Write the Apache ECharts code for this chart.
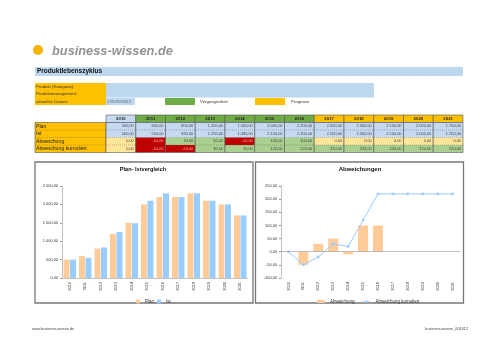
<!DOCTYPE html>
<html>
<head>
<meta charset="utf-8">
<script src="https://cdn.jsdelivr.net/npm/echarts@6/dist/echarts.min.js"></script>
<style>
html,body{margin:0;padding:0;background:#fff;}
#main{width:500px;height:354px;}
</style>
</head>
<body>
<div id="main"></div>
<script>
// Daten aus der Tabelle
var years = ['2010','2011','2012','2013','2014','2015','2016','2017','2018','2019','2020','2021'];
var plan = [500, 600, 800, 1200, 1500, 2000, 2200, 2200, 2300, 2100, 2000, 1700];
var ist = [500, 550, 830, 1250, 1490, 2100, 2300, 2200, 2300, 2100, 2000, 1700];
var abweichung = [0, -50, 30, 50, -10, 100, 100, 0, 0, 0, 0, 0];
var abwKumuliert = [0, -50, -20, 30, 20, 120, 220, 220, 220, 220, 220, 220];
var pastYears = 7; // 2010..2016 Vergangenheit, Rest Prognose
var rowLabels = ['Plan', 'Ist', 'Abweichung', 'Abweichung kumuliert'];

var FONT = 'Liberation Sans';

function de(v) {
    var neg = v < 0;
    var s = Math.abs(v).toFixed(2).split('.');
    var intPart = s[0].replace(/\B(?=(\d{3})+(?!\d))/g, '.');
    return (neg ? '-' : '') + intPart + ',' + s[1];
}

var chart = echarts.init(document.getElementById('main'), null, {renderer: 'canvas'});

var g = [];
function rect(x, y, w, h, fill, stroke, lw) {
    g.push({type: 'rect', shape: {x: x, y: y, width: w, height: h}, style: {fill: fill, stroke: stroke || null, lineWidth: lw || 0}, silent: true});
}
function text(x, y, t, size, opt) {
    opt = opt || {};
    g.push({type: 'text', x: x, y: y, silent: true, style: {
        text: t, fontSize: size, fontFamily: opt.family || FONT, fontWeight: opt.weight || 'normal',
        fontStyle: opt.style || 'normal', fill: opt.color || '#333',
        align: opt.align || 'left', verticalAlign: 'middle'
    }});
}

// Logo
g.push({type: 'circle', shape: {cx: 38, cy: 50, r: 5}, style: {fill: '#F5B400'}, silent: true});
text(52, 51, 'business-wissen.de', 12.8, {weight: 'bold', style: 'italic', color: '#939393'});

// Titelzeile
rect(35, 67, 428, 9, '#BDD7EE');
text(37, 71.5, 'Produktlebenszyklus', 6.5, {weight: 'bold', color: '#111'});

// Kopfbereich
rect(35, 83, 71, 22, '#FFC000');
rect(106, 83, 268, 14.5, '#BDD7EE');
rect(106, 98, 29, 7, '#BDD7EE');
text(36, 86.5, 'Produkt (Kategorie):', 4.3);
text(36, 94, 'Produktmanagement:', 4.3);
text(36, 101.5, 'aktuelles Datum:', 4.3);
text(107, 101.5, '##########', 4.3);
rect(165, 98, 30, 7, '#6FAC46');
text(200, 101.5, 'Vergangenheit', 4.3);
rect(255, 98, 30, 7, '#FFC000');
text(291, 101.5, 'Prognose', 4.3);

// Tabelle
var x0 = 106, colW = 29.75, hy = 115, rowH = 7.5;
var ty = hy + 7.5;
rect(35, ty, 71, rowH * 4, '#FFC000', '#555', 0.6);
rowLabels.forEach(function (l, i) {
    text(36, ty + rowH * i + rowH / 2, l, 5.2, {color: '#222'});
    if (i > 0) g.push({type: 'line', shape: {x1: 35, y1: ty + rowH * i, x2: 106, y2: ty + rowH * i}, style: {stroke: '#555', lineWidth: 0.4, lineDash: [1, 1]}, silent: true});
});
var rows = [plan, ist, abweichung, abwKumuliert];
years.forEach(function (y, c) {
    var x = x0 + colW * c;
    var hc = c === 0 ? '#C5D9F1' : (c < pastYears ? '#6FAC46' : '#FFC000');
    rect(x, hy, colW, 7.5, hc, '#555', 0.6);
    text(x + colW / 2, hy + 3.9, y, 4.3, {align: 'center', weight: 'bold', color: '#222'});
    rows.forEach(function (arr, r) {
        var fill = '#C5D9F1', col = '#444';
        if (r >= 2) {
            if (arr[c] < 0) { fill = '#C00000'; col = '#f4b0b0'; }
            else if (arr[c] > 0) { fill = '#A9D08E'; }
            else { fill = '#FFE699'; }
        }
        rect(x, ty + rowH * r, colW, rowH, fill);
        text(x + colW - 2, ty + rowH * r + rowH / 2, de(arr[c]), 3.9, {align: 'right', color: col});
    });
    rect(x, ty, colW, rowH * 4, null, '#555', 0.6);
});
[1, 2, 3].forEach(function (i) {
    g.push({type: 'line', shape: {x1: x0, y1: ty + rowH * i, x2: x0 + colW * 12, y2: ty + rowH * i}, style: {stroke: '#555', lineWidth: 0.4, lineDash: [1, 1]}, silent: true});
});

// Diagrammrahmen
rect(35, 162, 218, 141, null, '#777', 1.3);
rect(255.5, 162, 208, 141, null, '#777', 1.3);
text(143, 169, 'Plan- Istvergleich', 5.6, {align: 'center', weight: 'bold', color: '#111'});
text(360, 169, 'Abweichungen', 6, {align: 'center', weight: 'bold', color: '#111'});

// Fusszeile
text(32, 329, 'www.business-wissen.de', 3.8, {color: '#444'});
text(468, 329, 'business-wissen_001012', 3.8, {color: '#444', align: 'right'});

var axisLabelY = {fontSize: 3.9, color: '#333', fontFamily: FONT, formatter: de, margin: 4};
var axisLabelX = {fontSize: 3.9, color: '#333', fontFamily: FONT, rotate: 90, margin: 4, interval: 0};

var option = {
    animation: false,
    backgroundColor: '#fff',
    textStyle: {fontFamily: FONT},
    graphic: g,
    grid: [
        {left: 62, top: 186, width: 186, height: 92},
        {left: 281, top: 186, width: 179, height: 92}
    ],
    legend: [
        {data: ['Plan', 'Ist'], left: 131, top: 294, itemWidth: 4, itemHeight: 4, itemGap: 3,
            textStyle: {fontSize: 4.5, color: '#333'}},
        {data: ['Abweichung', {name: 'Abweichung kumuliert', icon: 'path://M0,5L4,5L4,3.5L6,3.5L6,5L10,5L10,5.6L6,5.6L6,7L4,7L4,5.6L0,5.6Z'}],
            left: 312, top: 294, itemWidth: 8, itemHeight: 3, itemGap: 8,
            textStyle: {fontSize: 4.5, color: '#333'}}
    ],
    xAxis: [
        {gridIndex: 0, type: 'category', data: years, axisLabel: axisLabelX,
            axisLine: {lineStyle: {color: '#999', width: 0.6}}, axisTick: {length: 2, lineStyle: {color: '#999'}}},
        {gridIndex: 1, type: 'category', data: years, axisLabel: axisLabelX,
            axisLine: {show: false, onZero: false}, axisTick: {show: false}}
    ],
    yAxis: [
        {gridIndex: 0, type: 'value', min: 0, max: 2500, interval: 500, axisLabel: axisLabelY,
            axisLine: {show: true, lineStyle: {color: '#999', width: 0.6}}, axisTick: {show: true, length: 2, lineStyle: {color: '#999'}},
            splitLine: {show: false}},
        {gridIndex: 1, type: 'value', min: -100, max: 250, interval: 50, axisLabel: axisLabelY,
            axisLine: {show: true, lineStyle: {color: '#999', width: 0.6}}, axisTick: {show: true, length: 2, lineStyle: {color: '#999'}},
            splitLine: {show: false}}
    ],
    series: [
        {name: 'Plan', type: 'bar', xAxisIndex: 0, yAxisIndex: 0, data: plan, barWidth: 6, barGap: '8%',
            itemStyle: {color: '#FFCC99'}},
        {name: 'Ist', type: 'bar', xAxisIndex: 0, yAxisIndex: 0, data: ist, barWidth: 6, barGap: '8%',
            itemStyle: {color: '#99CCFF'}},
        {name: 'Abweichung', type: 'bar', xAxisIndex: 1, yAxisIndex: 1, data: abweichung, barWidth: 10,
            itemStyle: {color: '#FFCC99'},
            markLine: {silent: true, symbol: 'none', label: {show: false},
                lineStyle: {color: '#999', width: 0.6, type: 'solid'}, data: [{yAxis: 0}]}},
        {name: 'Abweichung kumuliert', type: 'line', xAxisIndex: 1, yAxisIndex: 1, data: abwKumuliert,
            symbol: 'rect', symbolSize: 2.5, lineStyle: {color: '#99CCFF', width: 1},
            itemStyle: {color: '#99CCFF'}}
    ]
};

chart.setOption(option);
</script>
</body>
</html>
